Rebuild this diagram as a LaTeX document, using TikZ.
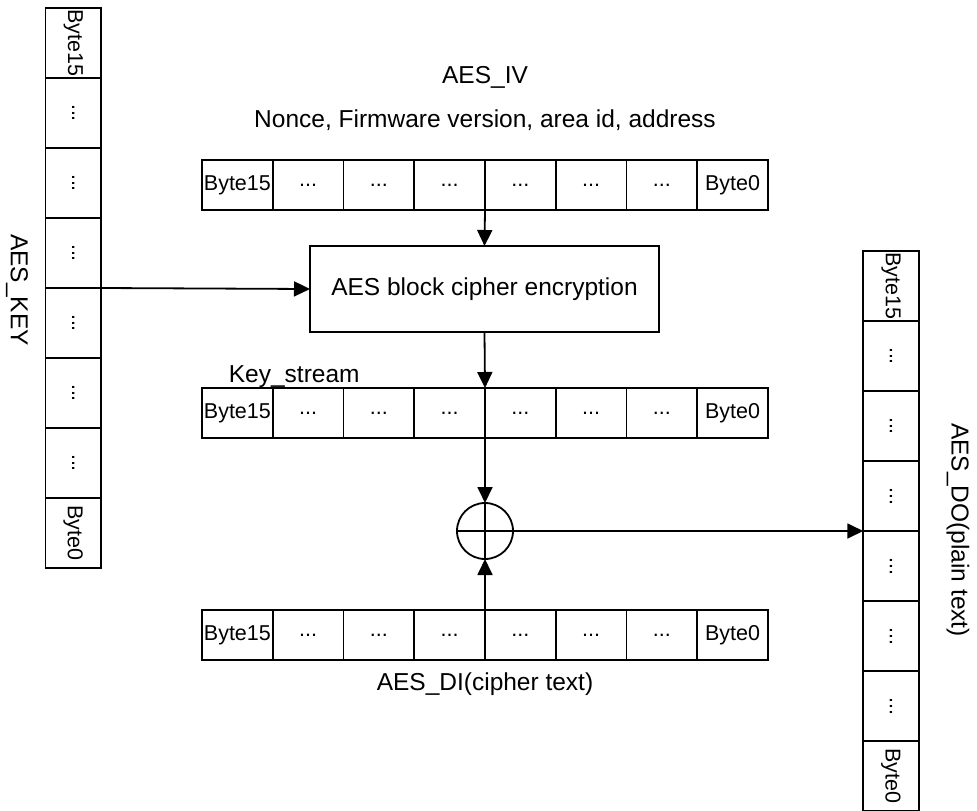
\documentclass[tikz,border=0pt]{standalone}
\usepackage{fontspec}
\setmainfont{Liberation Sans}
\usetikzlibrary{arrows.meta}
\newcommand{\mydots}{...}
\begin{document}
\begin{tikzpicture}[x=1pt,y=-1pt,
  line width=1.8pt,
  lbl/.style={font=\fontsize{24.5}{24.5}\selectfont, inner sep=0pt},
  hcell/.style={draw, minimum width=70.75pt, minimum height=50pt, inner sep=0pt, outer sep=0pt, font=\fontsize{21.5}{21.5}\selectfont},
  vcell/.style={draw, minimum width=55.5pt, minimum height=70pt, inner sep=0pt, outer sep=0pt, font=\fontsize{21.5}{21.5}\selectfont},
  blk/.style={draw, minimum width=349pt, minimum height=86pt, inner sep=0pt, outer sep=0pt, font=\fontsize{24.5}{24.5}\selectfont},
  arr/.style={-{Triangle[length=16pt,width=15pt]}}
]
\useasboundingbox (0,0) rectangle (977,811);

% horizontal arrays: IV, keystream, DI
\foreach \arrname/\yy in {iv/185, ks/413, di/635}{
  \foreach \i/\t in {1/Byte15,2/\mydots,3/\mydots,4/\mydots,5/\mydots,6/\mydots,7/\mydots,8/Byte0}{
    \node[hcell] (\arrname\i) at ({202+70.75*(\i-0.5)},\yy) {\t};
  }
}
% vertical arrays: KEY (left), DO (right)
\foreach \i/\t in {1/Byte15,2/\mydots,3/\mydots,4/\mydots,5/\mydots,6/\mydots,7/\mydots,8/Byte0}{
  \node[vcell] (key\i) at (73.25,{8+70*(\i-0.5)}) {\rotatebox{-90}{\t}};
  \node[vcell] (do\i) at (891,{251+70*(\i-0.5)}) {\rotatebox{-90}{\t}};
}

% labels
\node[lbl] (ivlbl) at (485,77) {AES\_IV};
\node[lbl] (ivsub) at (485,120) {Nonce, Firmware version, area id, address};
\node[lbl, anchor=west] (kslbl) at (228,377) {Key\_stream};
\node[lbl] (dilbl) at (485,684) {AES\_DI(cipher text)};
\node[lbl, rotate=-90] (keylbl) at (17,290) {AES\_KEY};
\node[lbl, rotate=-90] (dolbl) at (958,530) {AES\_DO(plain text)};

% cipher block
\node[blk] (aes) at (484.5,289) {AES block cipher encryption};

% xor
\node[draw, circle, minimum size=56pt, inner sep=0pt, outer sep=0pt] (xor) at (485,531) {};
\draw (xor.north) -- (xor.south);
\draw (xor.west) -- (xor.east);

% connectors
\draw[arr] (iv4.south east) -- (aes.north);
\draw[arr] (key4.south east) -- (aes.west);
\draw[arr] (aes.south) -- (ks4.north east);
\draw[arr] (ks4.south east) -- (xor.north);
\draw[arr] (di4.north east) -- (xor.south);
\draw[arr] (xor.east) -- (do4.south west);
\end{tikzpicture}
\end{document}
